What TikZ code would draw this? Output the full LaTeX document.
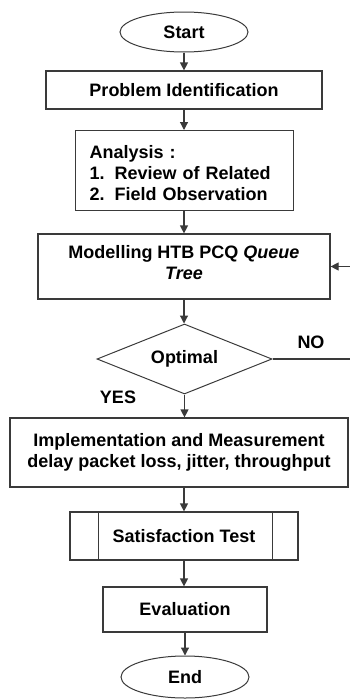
\documentclass[tikz,border=0pt]{standalone}
\usepackage{fontspec}
\setmainfont{Liberation Sans}
\usetikzlibrary{shapes.geometric,arrows.meta}
\definecolor{linec}{HTML}{3A3A3A}
\tikzset{
  every node/.style={font=\fontsize{18}{21}\selectfont\bfseries, text=black},
  box/.style={draw=linec, line width=1.2pt, rectangle, inner sep=0pt, align=center},
  term/.style={draw=linec, line width=1pt, ellipse, inner sep=0pt},
  dec/.style={draw=linec, line width=1pt, diamond, inner sep=0pt, shape aspect=2.5},
  arr/.style={draw=linec, line width=1.2pt, -{Triangle[length=8pt,width=8pt]}},
  lbl/.style={inner sep=0pt}
}
\begin{document}
\begin{tikzpicture}[x=1pt,y=-1pt]
\useasboundingbox (0,0) rectangle (350,699);
\node[term, minimum width=128pt, minimum height=40pt] (start) at (184,32) {Start};
\node[box, minimum width=276pt, minimum height=38pt] (prob) at (184,90) {Problem Identification};
\node[box, minimum width=218pt, minimum height=80pt, align=left, anchor=north west, text width=190pt] (anal) at (75,130)
  {\rule{0pt}{17pt}Analysis :\\\makebox[25pt][l]{1.}Review of Related\\\makebox[25pt][l]{2.}Field Observation};
\node[box, minimum width=292pt, minimum height=65pt] (model) at (184,266.5) {Modelling HTB PCQ \textit{Queue}\\\textit{Tree}\rule[-9pt]{0pt}{9pt}};
\node[dec, minimum width=175pt, minimum height=70pt] (opt) at (184.5,359) {Optimal};
\node[box, minimum width=338pt, minimum height=69pt] (impl) at (179,452.5) {Implementation and Measurement\\delay packet loss, jitter, throughput};
\node[box, minimum width=228pt, minimum height=48pt] (sat) at (184,536) {Satisfaction Test};
\draw[linec, line width=1.2pt] ([xshift=29pt]sat.north west) -- ([xshift=29pt]sat.south west);
\draw[linec, line width=1.2pt] ([xshift=-26pt]sat.north east) -- ([xshift=-26pt]sat.south east);
\node[box, minimum width=164pt, minimum height=45pt] (eval) at (185,609.5) {Evaluation};
\node[term, minimum width=128pt, minimum height=42pt] (end) at (185,677) {End};
\node[lbl] (no) at (311,342) {NO};
\node[lbl] (yes) at (118,397) {YES};
\coordinate (fb1) at (353,359);
\coordinate (fb2) at (353,266.5);
\draw[arr] (start.south) -- (start.south |- prob.north);
\draw[arr] (prob.south) -- (prob.south |- anal.north);
\draw[arr] (prob.south |- anal.south) -- (prob.south |- model.north);
\draw[arr] (model.south) -- (model.south |- opt.north);
\draw[arr] (opt.south) -- (opt.south |- impl.north);
\draw[arr] (sat.north |- impl.south) -- (sat.north);
\draw[arr] (sat.south) -- (sat.south |- eval.north);
\draw[arr] (eval.south) -- (eval.south |- end.north);
\draw[arr] (opt.east) -- (fb1) -- (fb2) -- (model.east);
\end{tikzpicture}
\end{document}
